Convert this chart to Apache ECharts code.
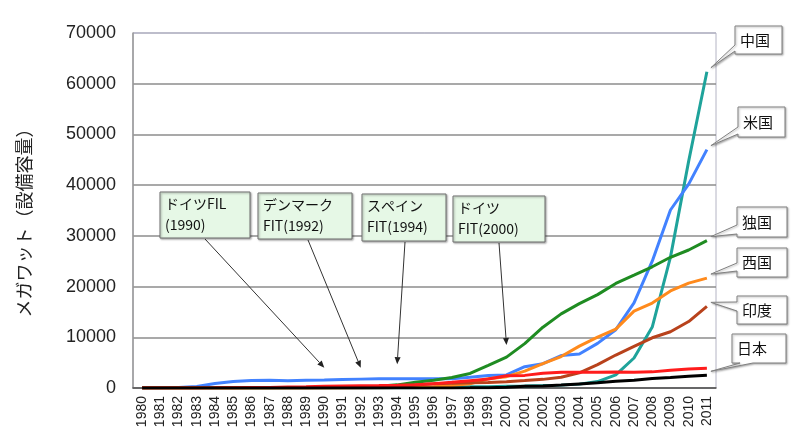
<!DOCTYPE html>
<html><head><meta charset="utf-8">
<script src="https://cdn.jsdelivr.net/npm/echarts@6/dist/echarts.min.js"></script>
<style>html,body{margin:0;padding:0;background:#fff}#c{width:799px;height:436px}</style>
</head><body><div id="c"></div>
<script>
// ---- data ----
const years = ['1980','1981','1982','1983','1984','1985','1986','1987','1988','1989',
  '1990','1991','1992','1993','1994','1995','1996','1997','1998','1999',
  '2000','2001','2002','2003','2004','2005','2006','2007','2008','2009','2010','2011'];
const china   = [0,0,0,0,0,0,0,0,0,0, 4,5,10,15,30,44,79,170,224,268, 346,402,469,567,764,1260,2599,5912,12020,25805,44733,62364];
const usa     = [8,18,84,300,900,1300,1500,1550,1450,1550, 1600,1700,1750,1800,1800,1800,1800,1800,2100,2450, 2570,4200,4800,6400,6700,8800,11500,16800,25000,35100,40200,47000];
const germany = [0,0,0,1,2,5,10,20,30,40, 55,106,174,326,618,1121,1546,2081,2875,4442, 6095,8754,11994,14609,16629,18415,20622,22247,23903,25777,27214,29060];
const spain   = [0,0,0,0,0,0,0,0,0,0, 7,7,50,60,75,115,249,512,834,1812, 2235,3337,4825,6203,8264,10028,11623,15145,16740,19149,20676,21674];
const india   = [0,0,0,0,0,0,5,10,15,20, 30,40,60,80,180,576,820,940,1015,1077, 1220,1456,1702,2125,3000,4600,6500,8200,9900,11100,13100,16100];
const denmark = [3,7,12,20,26,50,82,115,197,262, 343,413,458,487,539,637,835,1116,1450,1771, 2417,2489,2889,3116,3118,3128,3136,3125,3180,3482,3752,3871];
const japan   = [0,0,0,0,0,0,0,0,0,0, 1,2,3,5,8,10,14,21,30,68, 142,357,415,580,809,1040,1309,1528,1880,2056,2304,2501];
const yMax = 70000, yStep = 10000;
const yName = 'メガワット（設備容量）';
// policy annotations
const fitLine1 = ['ドイツFIL','デンマーク','スペイン','ドイツ'];
const fitLine2 = ['(1990)','FIT(1992)','FIT(1994)','FIT(2000)'];
const fitYears = ['1990','1992','1994','2000'];
const fitValues = [4000, 4000, 4700, 8500];
// country end labels
const countryNames = ['中国','米国','独国','西国','印度','日本'];

// ---- chart ----
const seriesDefs = [
  {name:'中国', data:china,   color:'#1fa39b'},
  {name:'米国', data:usa,     color:'#4282ff'},
  {name:'独国', data:germany, color:'#1f8c22'},
  {name:'西国', data:spain,   color:'#ff8a1c'},
  {name:'印度', data:india,   color:'#b8421c'},
  {name:'丁国', data:denmark, color:'#ff1c1c'},
  {name:'日本', data:japan,   color:'#000000'}
];
const gridColors = ['#8c8c8c','#8c8c8c','#8c8c8c','#8c8c8c','#8c8c8c','#8c8c8c','#8c8c8c','#b4b4c4'];
const chart = echarts.init(document.getElementById('c'));
chart.setOption({
  animation:false,
  grid:{left:133,right:83,top:33,bottom:48,show:true,borderColor:'#b4b4c4',borderWidth:1},
  xAxis:{type:'category',data:years,boundaryGap:true,
    axisLine:{lineStyle:{color:'#555',width:1.5}},
    axisTick:{inside:true,length:5,lineStyle:{color:'#888'}},
    axisLabel:{rotate:90,interval:0,fontSize:14,fontFamily:'Liberation Sans',color:'#222',margin:8}},
  yAxis:{type:'value',min:0,max:yMax,interval:yStep,
    name:yName,nameLocation:'middle',nameGap:100,nameRotate:90,
    nameTextStyle:{fontSize:18,fontFamily:'Noto Sans CJK JP',color:'#222',padding:[0,16,0,0]},
    axisLine:{show:true,lineStyle:{color:'#999',width:1.5}},
    axisTick:{show:false},
    axisLabel:{fontSize:18,fontFamily:'Liberation Sans',color:'#222',margin:17,formatter:v=>String(v)},
    splitLine:{lineStyle:{color:gridColors,width:1.5}}},
  series: seriesDefs.map(s=>({type:'line',name:s.name,data:s.data,symbol:'none',
    lineStyle:{width:3,color:s.color},itemStyle:{color:s.color}}))
});

// ---- annotations (layout boxes) ----
const g = [];
const fitBoxes = [
  {x:160,y:192,w:90,h:46,ax:205},
  {x:258,y:193,w:94,h:46,ax:308},
  {x:362,y:194,w:84,h:47,ax:405},
  {x:453,y:196,w:92,h:46,ax:499}
];
fitBoxes.forEach((b,i)=>{
  g.push({type:'rect',shape:{x:b.x,y:b.y,width:b.w,height:b.h},
    style:{fill:'#e6f8e6',stroke:'#707070',lineWidth:1,shadowBlur:2,shadowOffsetX:1,shadowOffsetY:1,shadowColor:'rgba(0,0,0,0.35)'},z:100});
  g.push({type:'text',x:b.x+5,y:b.y+12,style:{text:fitLine1[i],font:'14px "Noto Sans CJK JP"',fill:'#111',verticalAlign:'middle'},z:101});
  g.push({type:'text',x:b.x+5,y:b.y+33,style:{text:fitLine2[i],font:'14px "Noto Sans CJK JP"',fill:'#111',verticalAlign:'middle'},z:101});
  const tip = chart.convertToPixel({xAxisIndex:0,yAxisIndex:0},[fitYears[i],fitValues[i]]);
  const sx=b.ax, sy=b.y+b.h+1;
  const dx=tip[0]-sx, dy=tip[1]-sy, L=Math.hypot(dx,dy), ux=dx/L, uy=dy/L;
  const bx=tip[0]-ux*7, by=tip[1]-uy*7;
  g.push({type:'line',shape:{x1:sx,y1:sy,x2:bx,y2:by},style:{stroke:'#333',lineWidth:1},z:99});
  g.push({type:'polygon',shape:{points:[tip,[bx-uy*3,by+ux*3],[bx+uy*3,by-ux*3]]},style:{fill:'#222'},z:99});
});

const calloutBoxes = [
  {x:735,y:26,w:47,h:28,side:'left',b1:45,b2:51},
  {x:738,y:107,w:47,h:30,side:'left',b1:127,b2:134},
  {x:737,y:207,w:50,h:30,side:'left',b1:225,b2:234},
  {x:737,y:248,w:50,h:29,side:'left',b1:263,b2:271},
  {x:737,y:296,w:50,h:28,side:'left',b1:302,b2:311},
  {x:732,y:334,w:54,h:29,side:'bottom',b1:740,b2:753}
];
const endSeries = [china,usa,germany,spain,india,japan];
calloutBoxes.forEach((b,i)=>{
  const arr = endSeries[i];
  const p = chart.convertToPixel({xAxisIndex:0,yAxisIndex:0},[years[years.length-1],arr[arr.length-1]]);
  const tip = [p[0]+4,p[1]-4];
  let pts;
  if (b.side==='left') pts=[[b.x,b.y],[b.x+b.w,b.y],[b.x+b.w,b.y+b.h],[b.x,b.y+b.h],[b.x,b.b2],tip,[b.x,b.b1]];
  else pts=[[b.x,b.y],[b.x+b.w,b.y],[b.x+b.w,b.y+b.h],[b.b2,b.y+b.h],tip,[b.b1,b.y+b.h],[b.x,b.y+b.h]];
  g.push({type:'polygon',shape:{points:pts},
    style:{fill:'#fff',stroke:'#808080',lineWidth:1,shadowBlur:2,shadowOffsetX:1,shadowOffsetY:1,shadowColor:'rgba(0,0,0,0.3)'},z:100});
  g.push({type:'text',x:b.x+5,y:b.y+b.h/2,style:{text:countryNames[i],font:'15px "Noto Sans CJK JP"',fill:'#111',verticalAlign:'middle'},z:101});
});
chart.setOption({graphic:g});
</script>
</body></html>
